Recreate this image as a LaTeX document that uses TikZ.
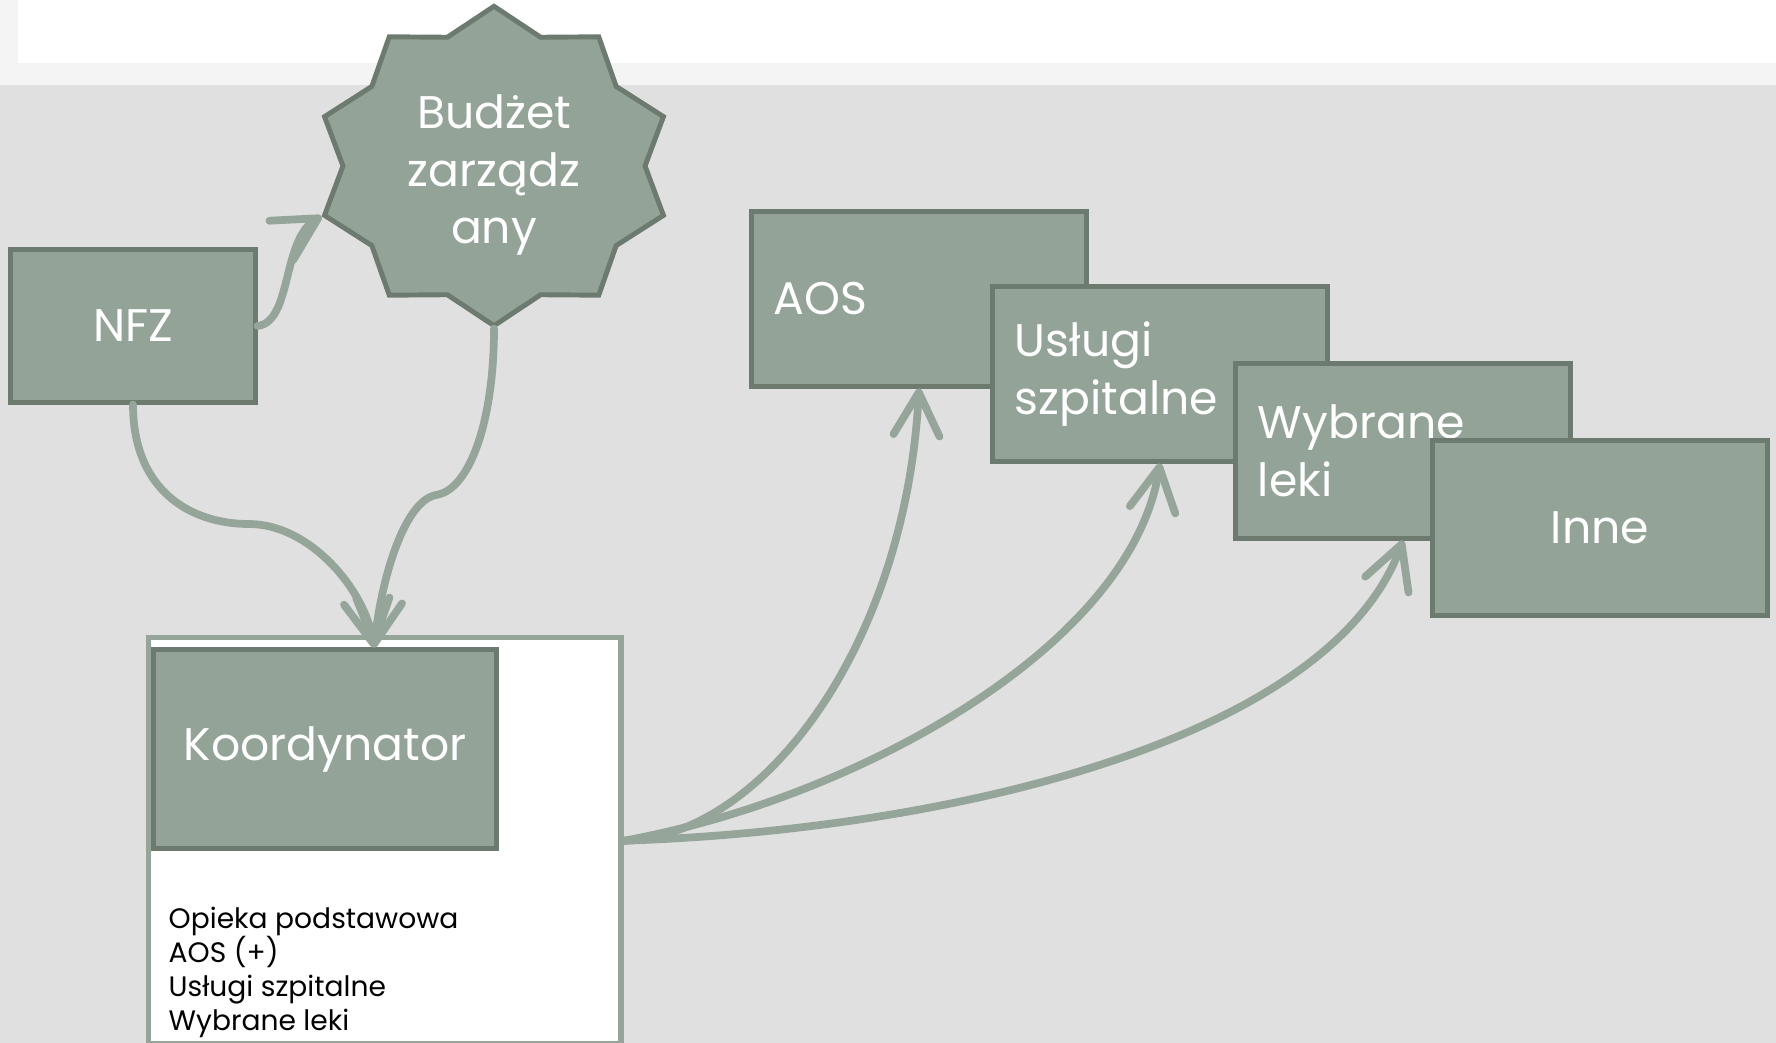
\documentclass[tikz,border=0pt]{standalone}
\usepackage{fontspec}
\setmainfont{Poppins}
\usetikzlibrary{arrows.meta, positioning, calc, shapes.geometric}
\definecolor{BoxSage}{HTML}{93A398}
\definecolor{BoxEdge}{HTML}{6C7A6F}
\definecolor{LinkSage}{HTML}{96A59A}
\definecolor{SlideGray}{HTML}{E0E0E0}
\definecolor{BandGray}{HTML}{F4F4F4}
\tikzset{
  sagebox/.style={
    rectangle, draw=BoxEdge, fill=BoxSage, line width=1.4pt,
    minimum width=3.34cm, minimum height=1.74cm, text width=2.9cm,
    inner xsep=0.22cm, align=left, text=white,
    font=\fontsize{13}{16.4}\selectfont
  },
  starbox/.style={
    star, star points=10, star point ratio=1.18, minimum size=3.36cm,
    draw=BoxEdge, fill=BoxSage, line width=1.4pt, inner sep=0pt
  },
  panel/.style={
    rectangle, draw=LinkSage, fill=white, line width=1.5pt,
    minimum width=4.72cm, minimum height=4.06cm, inner sep=0pt
  },
  link/.style={
    draw=LinkSage, line width=2.2pt, line cap=round,
    -{Straight Barb[length=4.3mm, width=4.6mm, round]}
  }
}

\begin{document}
\begin{tikzpicture}[x=0.01cm, y=-0.01cm]

% -- slide background ---------------------------------------------------------
\clip (0,0) rectangle (1776,1043);
\fill[SlideGray] (0,0) rectangle (1776,1043);
\fill[BandGray] (0,0) rectangle (1776,85);
\fill[white] (18,0) rectangle (1776,63);

% -- funding side -------------------------------------------------------------
\node[sagebox, minimum width=2.44cm, minimum height=1.52cm, text width=2.0cm, align=center] (nfz) at (133,326) {NFZ};

\begin{scope}[shift={(494,166)}]
  \node[starbox, transform shape, xscale=1.06, yscale=0.95] (budget) at (0,0) {};
\end{scope}
\node[text=white, align=center, font=\fontsize{13}{16.4}\selectfont] (budgettxt) at (494,175) {Budżet\\zarządz\\any};

% -- coordinator panel --------------------------------------------------------
\node[panel, anchor=north west] (panel) at (146,635) {};
\node[sagebox, minimum width=3.42cm, minimum height=1.98cm, text width=2.98cm, align=center] (koord) at (325,749) {\raisebox{-0.05cm}{Koordynator}};
\node[anchor=north west, inner sep=0pt, align=left, font=\fontsize{8}{9.7}\selectfont] (zakres) at (168,906) {%
  Opieka podstawowa\\
  AOS (+)\\
  Usługi szpitalne\\
  Wybrane leki
};

% -- purchased services -------------------------------------------------------
\node[sagebox] (aos) at (919,299) {AOS};
\node[sagebox] (uslugi) at (1160,374) {Usługi\\szpitalne};
\node[sagebox] (leki) at (1403,451) {Wybrane\\leki};
\node[sagebox, align=center] (inne) at (1600,528) {Inne};

% -- connectors ---------------------------------------------------------------
\coordinate (kin) at ($(koord.north)+(49,0)$);

\draw[link] (nfz.east) .. controls (292,322) and (282,240) .. (budget.outer point 4);
\draw[link] (nfz.south) .. controls (133,490) and (190,524) .. (249,524)
  .. controls (310,524) and (365,590) .. (kin);
\draw[link] (budget.south) .. controls (494,420) and (470,490) .. (436,495)
  .. controls (405,501) and (382,575) .. (kin);

\draw[link] (panel.east) .. controls (760,838) and (905,650) .. (aos.south);
\draw[link] (panel.east) .. controls (850,800) and (1130,650) .. (uslugi.south);
\draw[link] (panel.east) .. controls (950,830) and (1330,740) .. (leki.south);

\end{tikzpicture}
\end{document}
